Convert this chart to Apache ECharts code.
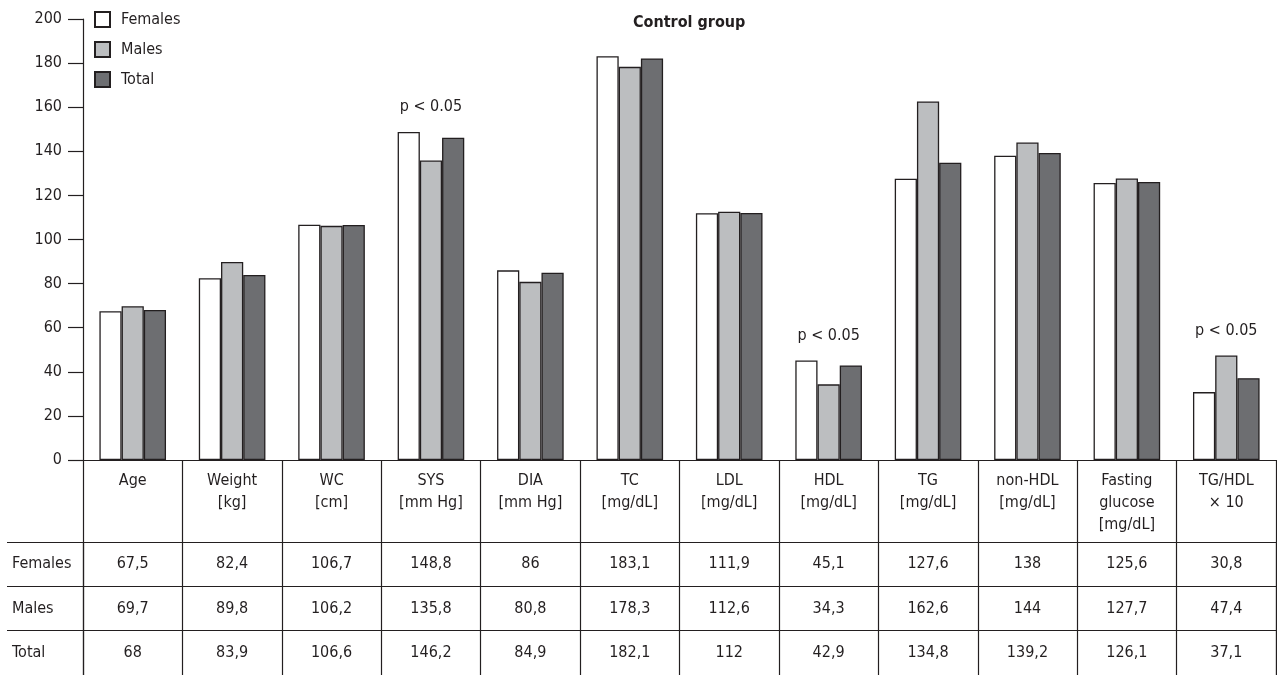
<!DOCTYPE html>
<html>
<head>
<meta charset="utf-8">
<script src="https://cdn.jsdelivr.net/npm/echarts@6/dist/echarts.min.js"></script>
<style>
html,body{margin:0;padding:0;background:#fff;}
#chart{width:1277px;height:675px;}
</style>
</head>
<body>
<div id="chart"></div>
<script>
const categories = ['Age','Weight\n[kg]','WC\n[cm]','SYS\n[mm Hg]','DIA\n[mm Hg]','TC\n[mg/dL]','LDL\n[mg/dL]','HDL\n[mg/dL]','TG\n[mg/dL]','non-HDL\n[mg/dL]','Fasting\nglucose\n[mg/dL]','TG/HDL\n× 10'];
const females = [67.5, 82.4, 106.7, 148.8, 86, 183.1, 111.9, 45.1, 127.6, 138, 125.6, 30.8];
const males   = [69.7, 89.8, 106.2, 135.8, 80.8, 178.3, 112.6, 34.3, 162.6, 144, 127.7, 47.4];
const total   = [68, 83.9, 106.6, 146.2, 84.9, 182.1, 112, 42.9, 134.8, 139.2, 126.1, 37.1];
const rowNames = ['Females','Males','Total'];
const significant = [3, 7, 11]; // category indices with p < 0.05
const pText = 'p < 0.05';
const yTicks = [0, 200, 20]; // min, max, interval

const FONT = "'Liberation Sans Narrow', 'DejaVu Sans Condensed', 'Roboto Condensed', sans-serif";
const INK = '#231f20';
const seriesColors = ['#ffffff', '#bcbec0', '#6d6e71'];

const rows = [females, males, total];
const tableData = [];
rows.forEach((arr, r) => arr.forEach((v, c) => tableData.push([c, r, v])));
const fmt = v => String(v).replace('.', ',');

const pData = significant.map(i => [i, Math.max(females[i], males[i], total[i])]);

const chart = echarts.init(document.getElementById('chart'), null, {renderer: 'canvas'});
const barStyle = (i) => ({color: seriesColors[i], borderColor: INK, borderWidth: 1.3});

chart.setOption({
  animation: false,
  textStyle: {fontFamily: FONT, color: INK},
  title: {
    text: 'Control group', left: 628, top: 10,
    textStyle: {fontFamily: FONT, fontSize: 16, fontWeight: 'bold', color: INK}
  },
  legend: {
    orient: 'vertical', left: 89, top: 6,
    itemWidth: 15, itemHeight: 15, itemGap: 13,
    icon: 'rect',
    textStyle: {fontFamily: FONT, fontSize: 16, color: INK, lineHeight: 15, padding: [0,0,0,6]},
    data: ['Females','Males','Total']
  },
  grid: [
    {left: 83, right: 1, top: 19, bottom: 215, containLabel: false},
    {left: 83, right: 1, top: 542, bottom: -2, containLabel: false}
  ],
  xAxis: [
    {
      type: 'category', gridIndex: 0, data: categories,
      axisLine: {show: true, lineStyle: {color: INK, width: 1.2}},
      axisTick: {show: true, interval: 0, length: 82, lineStyle: {color: INK, width: 1.2}},
      axisLabel: {interval: 0, margin: 10, fontSize: 16, lineHeight: 22, color: INK, fontFamily: FONT, verticalAlign: 'top'},
      splitLine: {show: false}
    },
    {
      type: 'category', gridIndex: 1, data: categories, position: 'top',
      axisLine: {show: true, lineStyle: {color: INK, width: 1.2}},
      axisTick: {show: false},
      axisLabel: {show: false},
      splitLine: {show: true, interval: 0, lineStyle: {color: INK, width: 1.2}}
    }
  ],
  yAxis: [
    {
      type: 'value', gridIndex: 0, min: yTicks[0], max: yTicks[1], interval: yTicks[2],
      axisLine: {show: true, lineStyle: {color: INK, width: 1.2}},
      axisTick: {show: true, length: 15, lineStyle: {color: INK, width: 1.2}},
      axisLabel: {margin: 21, fontSize: 16, color: INK, fontFamily: FONT},
      splitLine: {show: false}
    },
    {
      type: 'category', gridIndex: 1, data: rowNames, inverse: true,
      axisLine: {show: true, lineStyle: {color: INK, width: 1.2}},
      axisTick: {show: true, interval: 0, length: 76, lineStyle: {color: INK, width: 1.2}},
      axisLabel: {align: 'left', margin: 71, fontSize: 16, color: INK, fontFamily: FONT},
      splitLine: {show: true, interval: 0, lineStyle: {color: INK, width: 1.2}}
    },
    {
      type: 'category', gridIndex: 1, data: rowNames, inverse: true, offset: 76,
      axisLine: {show: true, lineStyle: {color: INK, width: 1.2}},
      axisTick: {show: false}, axisLabel: {show: false}, splitLine: {show: false}
    },
    {
      type: 'category', gridIndex: 1, data: rowNames, inverse: true, position: 'right',
      axisLine: {show: true, lineStyle: {color: INK, width: 1.2}},
      axisTick: {show: false}, axisLabel: {show: false}, splitLine: {show: false}
    }
  ],
  series: [
    {name: 'Females', type: 'bar', data: females, barGap: '0%', barCategoryGap: '33%', itemStyle: barStyle(0), silent: true},
    {name: 'Males', type: 'bar', data: males, barGap: '0%', barCategoryGap: '33%', itemStyle: barStyle(1), silent: true},
    {name: 'Total', type: 'bar', data: total, barGap: '0%', barCategoryGap: '33%', itemStyle: barStyle(2), silent: true},
    {
      type: 'scatter', data: pData, symbolSize: 0, silent: true,
      itemStyle: {opacity: 1},
      label: {show: true, position: 'top', distance: 17, formatter: pText, fontSize: 16, color: INK, opacity: 1, fontFamily: FONT}
    },
    {
      type: 'scatter', xAxisIndex: 1, yAxisIndex: 1, data: tableData, symbolSize: 0, silent: true,
      itemStyle: {opacity: 1},
      label: {show: true, position: 'inside', formatter: p => fmt(p.value[2]), fontSize: 16, color: INK, opacity: 1, fontFamily: FONT}
    }
  ]
});
</script>
</body>
</html>
